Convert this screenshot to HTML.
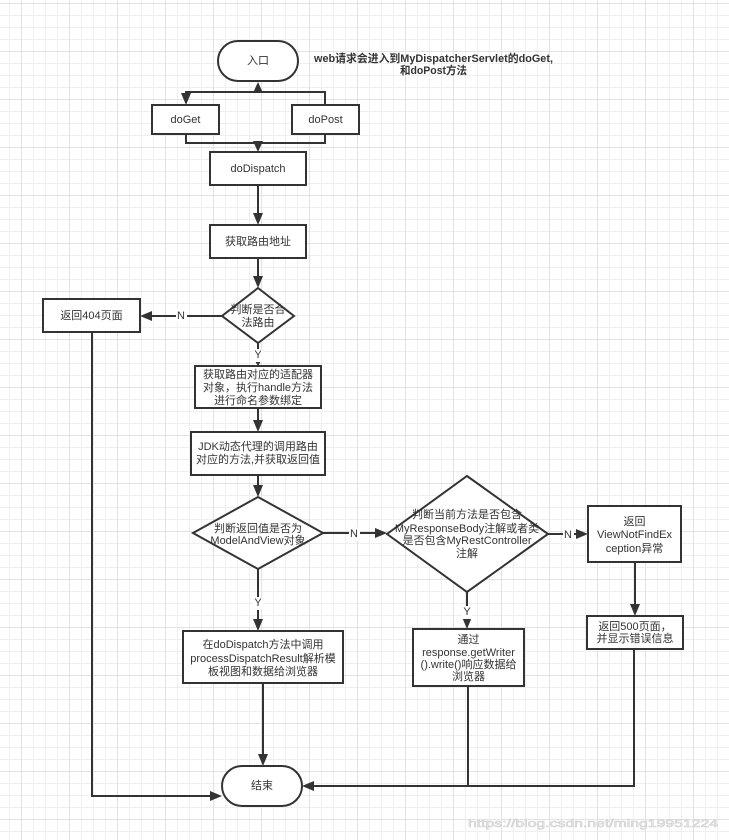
<!DOCTYPE html>
<html><head><meta charset="utf-8">
<style>
html,body{margin:0;padding:0;background:#fff;}
svg{display:block;}
text{font-family:"Liberation Sans","Noto Sans CJK SC",sans-serif;font-size:11px;fill:#333;}
</style></head>
<body>
<svg width="729" height="840" viewBox="0 0 729 840" xmlns="http://www.w3.org/2000/svg">
<defs>
<pattern id="g" x="21" y="3" width="48" height="48" patternUnits="userSpaceOnUse">
<rect x="12" y="0" width="1" height="48" fill="#efefef"/>
<rect x="24" y="0" width="1" height="48" fill="#efefef"/>
<rect x="36" y="0" width="1" height="48" fill="#efefef"/>
<rect x="0" y="12" width="48" height="1" fill="#efefef"/>
<rect x="0" y="24" width="48" height="1" fill="#efefef"/>
<rect x="0" y="36" width="48" height="1" fill="#efefef"/>
<rect x="0" y="0" width="1" height="48" fill="#e2e2e2"/>
<rect x="0" y="0" width="48" height="1" fill="#e2e2e2"/>
</pattern>
</defs>
<rect width="729" height="840" fill="#fff"/>
<rect width="729" height="840" fill="url(#g)"/>

<g fill="none" stroke="#333" stroke-width="2">
<path d="M325,105 V92 H186 V100"/>
<path d="M258,92 V86"/>
<path d="M186,134 V143 H325 V134"/>
<path d="M258,143 V147"/>
<path d="M258,185 V220"/>
<path d="M258,258 V283"/>
<path d="M222,316 H145"/>
<path d="M92,332 V796 H217"/>
<path d="M258,343 V362"/>
<path d="M258,408 V427"/>
<path d="M258,475 V492"/>
<path d="M323,533 H382"/>
<path d="M548,534 H583"/>
<path d="M635,562 V611"/>
<path d="M634,649 V786 H307"/>
<path d="M468,686 V786"/>
<path d="M467,592 V624"/>
<path d="M258,569 V626"/>
<path d="M263,683 V761"/>
</g>

<g fill="#333">
<polygon points="186,105 181,93 191,93"/>
<polygon points="258,82 253,93 263,93"/>
<polygon points="258,152 253,141 263,141"/>
<polygon points="258,225 253,213 263,213"/>
<polygon points="258,288 253,276 263,276"/>
<polygon points="140,316 152,311 152,321"/>
<polygon points="222,796 210,791 210,801"/>
<polygon points="258,366 255,361 261,361"/>
<polygon points="258,432 253,420 263,420"/>
<polygon points="258,497 253,485 263,485"/>
<polygon points="387,533 375,528 375,538"/>
<polygon points="588,534 576,529 576,539"/>
<polygon points="635,616 630,604 640,604"/>
<polygon points="302,786 314,781 314,791"/>
<polygon points="467,629 462,617 472,617"/>
<polygon points="258,631 253,619 263,619"/>
<polygon points="263,766 258,754 268,754"/>
</g>

<g fill="#fff" stroke="#333" stroke-width="2">
<rect x="218" y="41" width="80" height="40" rx="20"/>
<rect x="152" y="105" width="67" height="29"/>
<rect x="292" y="105" width="67" height="29"/>
<rect x="210" y="152" width="96" height="33"/>
<rect x="210" y="225" width="96" height="33"/>
<polygon points="258,288 294,316 258,343 222,316"/>
<rect x="43" y="299" width="97" height="33"/>
<rect x="195" y="366" width="126" height="42"/>
<rect x="191" y="432" width="134" height="43"/>
<polygon points="258,497 323,533 258,569 193,533"/>
<polygon points="467,476 548,534 467,592 387,534"/>
<rect x="588" y="506" width="93" height="56"/>
<rect x="587" y="616" width="96" height="33"/>
<rect x="413" y="629" width="111" height="57"/>
<rect x="183" y="631" width="160" height="52"/>
<rect x="222" y="766" width="80" height="40" rx="20"/>
</g>

<g fill="#fff">
<rect x="176" y="309" width="11" height="14"/>
<rect x="253" y="349" width="10" height="13"/>
<rect x="349" y="527" width="11" height="14"/>
<rect x="563" y="528" width="11" height="14"/>
<rect x="253" y="597" width="10" height="13"/>
<rect x="462" y="606" width="10" height="13"/>
</g>

<g text-anchor="middle" dominant-baseline="central">
<text x="258" y="61">入口</text>
<text x="185.5" y="120" font-size="12">doGet</text>
<text x="325.5" y="120" font-size="12">doPost</text>
<text x="258" y="169">doDispatch</text>
<text x="258" y="242">获取路由地址</text>
<text x="258" y="310">判断是否合</text>
<text x="258" y="323">法路由</text>
<text x="181" y="316">N</text>
<text x="91.5" y="316">返回404页面</text>
<text x="258" y="355">Y</text>
<text x="258" y="375">获取路由对应的适配器</text>
<text x="258" y="388">对象，执行handle方法</text>
<text x="258" y="401">进行命名参数绑定</text>
<text x="258" y="447">JDK动态代理的调用路由</text>
<text x="258" y="460">对应的方法,并获取返回值</text>
<text x="258" y="529">判断返回值是否为</text>
<text x="258" y="541">ModelAndView对象</text>
<text x="354" y="534">N</text>
<text x="467" y="515">判断当前方法是否包含</text>
<text x="467" y="529">MyResponseBody注解或者类</text>
<text x="467" y="541">是否包含MyRestController</text>
<text x="467" y="554">注解</text>
<text x="568" y="535">N</text>
<text x="634.5" y="522">返回</text>
<text x="634.5" y="535">ViewNotFindEx</text>
<text x="634.5" y="549">ception异常</text>
<text x="635" y="627">返回500页面，</text>
<text x="635" y="639">并显示错误信息</text>
<text x="258" y="603">Y</text>
<text x="263" y="645">在doDispatch方法中调用</text>
<text x="263" y="659">processDispatchResult解析模</text>
<text x="263" y="672">板视图和数据给浏览器</text>
<text x="467" y="612">Y</text>
<text x="468.5" y="640">通过</text>
<text x="468.5" y="653">response.getWriter</text>
<text x="468.5" y="665">().write()响应数据给</text>
<text x="468.5" y="677">浏览器</text>
<text x="262" y="786">结束</text>
<text x="433.5" y="59" font-weight="bold" textLength="239" lengthAdjust="spacingAndGlyphs">web请求会进入到MyDispatcherServlet的doGet,</text>
<text x="433.5" y="71" font-weight="bold" textLength="67" lengthAdjust="spacingAndGlyphs">和doPost方法</text>
</g>

<text x="468" y="827" font-size="17" textLength="250" lengthAdjust="spacingAndGlyphs" style="fill:#ececec;stroke:#d2d2d2;stroke-width:0.6;">https://blog.csdn.net/ming19951224</text>
</svg>
</body></html>
